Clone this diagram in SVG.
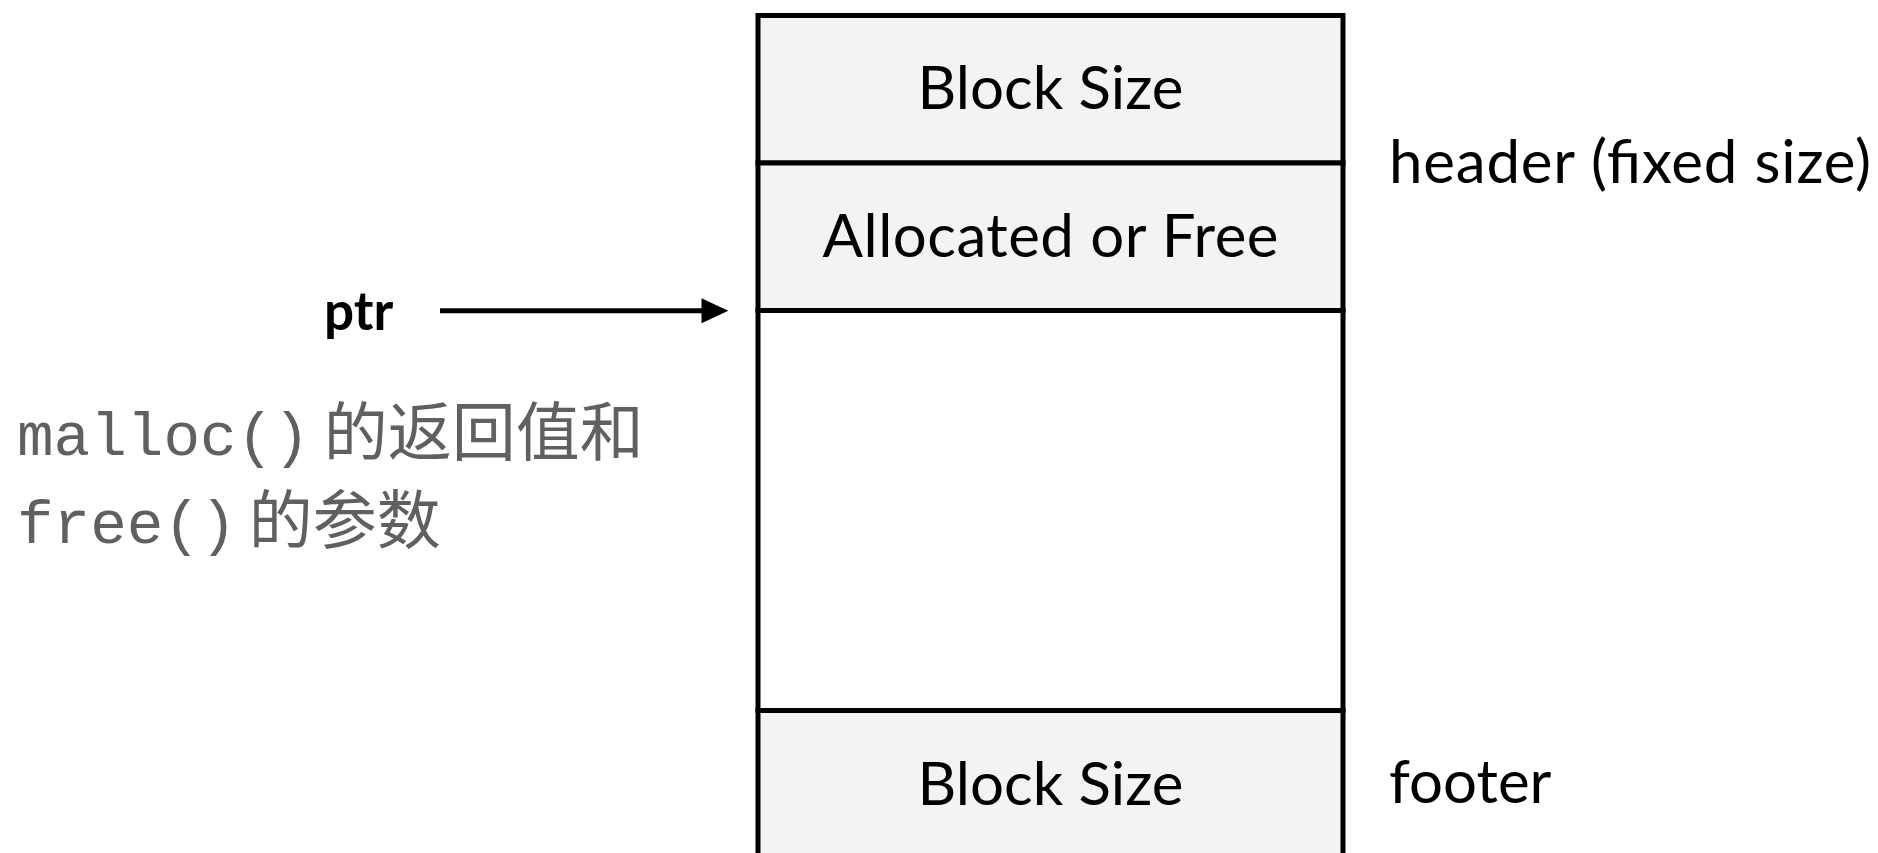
<svg xmlns="http://www.w3.org/2000/svg" width="1878" height="853" viewBox="0 0 1878 853">
<defs>
<style>
.cell{stroke:#000;stroke-width:5}
.shade{fill:#f3f3f3}
.plain{fill:#fff}
.lbl{font-family:Lato,"Open Sans",sans-serif;font-size:60px;fill:#000}
.mono{font-family:"Liberation Mono",monospace;font-size:61px;fill:#606060}
.cjk{font-family:"Noto Sans CJK SC",sans-serif;font-size:64px;fill:#606060}
</style>
</defs>
<rect width="1878" height="853" fill="#fff"/>
<g id="header-size">
<rect class="cell shade" x="758" y="15.5" width="585" height="147.5"/>
<text class="lbl" x="1050.5" y="108.5" text-anchor="middle">Block Size</text>
</g>
<g id="header-alloc">
<rect class="cell shade" x="758" y="163" width="585" height="147.5"/>
<text class="lbl" x="1050.5" y="257" text-anchor="middle" textLength="456" lengthAdjust="spacing">Allocated or Free</text>
</g>
<g id="payload">
<rect class="cell plain" x="758" y="310.5" width="585" height="400"/>
</g>
<g id="footer-size">
<rect class="cell shade" x="758" y="710.5" width="585" height="160"/>
<text class="lbl" x="1050.5" y="805" text-anchor="middle">Block Size</text>
</g>
<g id="ptr">
<text x="324" y="330" style="font-family:Lato,sans-serif;font-weight:bold;font-size:53px;fill:#000">ptr</text>
</g>
<g id="note">
<text x="17" y="455"><tspan class="mono">malloc()</tspan><tspan class="cjk" dx="14">的返回值和</tspan></text>
<text x="17" y="543"><tspan class="mono">free()</tspan><tspan class="cjk" dx="12">的参数</tspan></text>
</g>
<g id="header-label">
<text class="lbl" x="1389" y="182.5" textLength="482" lengthAdjust="spacing">header (fixed size)</text>
</g>
<g id="footer-label">
<text class="lbl" x="1389" y="803">footer</text>
</g>
<g id="connectors">
<line x1="440" y1="310.7" x2="705" y2="310.7" stroke="#000" stroke-width="5"/>
<path d="M701.5,298.3 L728.3,310.7 L701.5,323.3 Z" fill="#000"/>
</g>
</svg>
